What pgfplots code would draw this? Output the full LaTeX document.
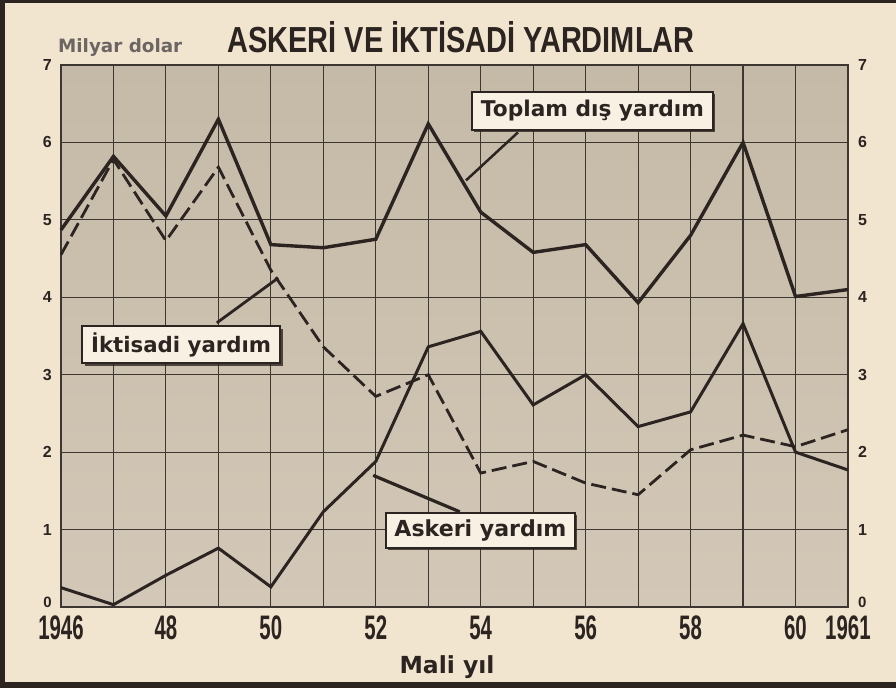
\documentclass[border=0pt]{standalone}
\usepackage{fontspec}
\setmainfont{Liberation Sans}
\newfontfamily\dv{DejaVu Sans}
\usepackage{pgfplots}
\pgfplotsset{compat=1.18}
\usetikzlibrary{shadows}
\definecolor{paper}{HTML}{F2E5D0}
\definecolor{plottop}{HTML}{C5B9A7}
\definecolor{plotbot}{HTML}{D3C8B7}
\definecolor{ink}{HTML}{2B2420}
\definecolor{gridc}{HTML}{3E3731}
\definecolor{boxc}{HTML}{F8F0E3}
\newcommand\xl[1]{\scalebox{0.6}[1]{\fontsize{34}{34}\selectfont\bfseries #1}}
\newcommand\yl[1]{{\fontsize{16}{16}\selectfont\bfseries #1}}
\newcommand\ylz{\raisebox{4pt}[8pt][0pt]{\fontsize{15}{15}\selectfont\bfseries 0}}
\newcommand\lab[2]{\resizebox{#1}{!}{\dv\bfseries #2}}
\pgfplotstableread{
year total econ mil
1946 4.87 4.55 0.25
1947 5.82 5.78 0.03
1948 5.05 4.73 0.41
1949 6.30 5.68 0.76
1950 4.68 4.35 0.26
1951 4.64 3.36 1.23
1952 4.75 2.72 1.88
1953 6.24 3.00 3.36
1954 5.10 1.73 3.56
1955 4.58 1.88 2.61
1956 4.68 1.60 3.00
1957 3.93 1.45 2.33
1958 4.80 2.03 2.52
1959 6.00 2.22 3.66
1960 4.01 2.07 2.00
1961 4.10 2.29 1.77
}\data
\begin{document}
\begin{tikzpicture}[x=1pt,y=1pt]
\fill[paper] (-61,-81) rectangle (835,607);
\path[use as bounding box] (-61,-81) rectangle (835,607);
\begin{axis}[name=ax, at={(0,0)}, anchor=south west, scale only axis,
  width=787pt, height=542pt,
  xmin=1946, xmax=1961, ymin=0, ymax=7,
  xtick={1946,...,1961},
  xticklabels={\xl{1946},,\xl{48},,\xl{50},,\xl{52},,\xl{54},,\xl{56},,\xl{58},,\xl{60},\xl{1961}},
  ytick={0,...,7},
  yticklabels={\ylz,\yl{1},\yl{2},\yl{3},\yl{4},\yl{5},\yl{6},\yl{7}},
  yticklabel pos=left,
  grid=major,
  major grid style={draw=gridc, line width=1.1pt},
  axis line style={draw=gridc, line width=1.1pt},
  major tick length=0pt,
  axis background/.style={top color=plottop, bottom color=plotbot},
  xticklabel style={inner sep=0pt, anchor=north, yshift=-9pt, text=ink},
  yticklabel style={inner sep=0pt, anchor=east, xshift=-9pt, text=ink},
  clip=false,
]
\addplot[ink, line width=3.4pt, line join=miter] table[x=year, y=total] {\data};
\addplot[ink, line width=2.8pt, dash pattern=on 15pt off 6pt] table[x=year, y=econ] {\data};
\addplot[ink, line width=3pt] table[x=year, y=mil] {\data};
% pointers
\draw[ink, line width=2.5pt] (axis cs:1953.72,5.51) -- (axis cs:1954.71,6.13);
\draw[ink, line width=2.8pt] (axis cs:1948.97,3.67) -- (axis cs:1950.14,4.25);
\draw[ink, line width=3.2pt] (axis cs:1951.95,1.70) -- (axis cs:1953.60,1.23);
% label boxes
\node[draw=ink, line width=2pt, fill=boxc, minimum width=241pt, minimum height=38pt, inner sep=0pt, text=ink,
  drop shadow={shadow xshift=2.5pt, shadow yshift=-2.5pt, fill=ink, opacity=0.8}]
  at (axis cs:1956.13,6.41) {\lab{223pt}{Toplam dış yardım}};
\node[draw=ink, line width=2pt, fill=boxc, minimum width=198pt, minimum height=37pt, inner sep=0pt, text=ink,
  drop shadow={shadow xshift=2.5pt, shadow yshift=-2.5pt, fill=ink, opacity=0.8}]
  at (axis cs:1948.29,3.39) {\lab{180pt}{İktisadi yardım}};
\node[draw=ink, line width=2pt, fill=boxc, minimum width=189pt, minimum height=35pt, inner sep=0pt, text=ink,
  drop shadow={shadow xshift=2.5pt, shadow yshift=-2.5pt, fill=ink, opacity=0.8}]
  at (axis cs:1953.995,0.99) {\lab{172pt}{Askeri yardım}};
\end{axis}
\begin{axis}[at={(0,0)}, anchor=south west, scale only axis,
  width=787pt, height=542pt,
  xmin=1946, xmax=1961, ymin=0, ymax=7,
  axis x line=none, axis y line*=right,
  axis line style={draw=none},
  ytick={0,...,7},
  yticklabels={\ylz,\yl{1},\yl{2},\yl{3},\yl{4},\yl{5},\yl{6},\yl{7}},
  major tick length=0pt,
  yticklabel style={inner sep=0pt, anchor=west, xshift=10pt, text=ink},
]
\addplot[draw=none] coordinates {(1946,0)};
\end{axis}
% title and texts
\node[anchor=base, text=ink, inner sep=0pt] at (400,554) {\resizebox{467pt}{31pt}{\bfseries ASKERİ VE İKTİSADİ YARDIMLAR}};
\node[anchor=base west, text=ink!70, inner sep=0pt] at (-3,554) {\resizebox{124pt}{!}{\dv\bfseries Milyar dolar}};
\node[anchor=base, text=ink, inner sep=0pt] at (386,-66) {\resizebox{95pt}{!}{\dv\bfseries Mali yıl}};
% frame
\fill[ink] (-61,-81) rectangle (-56,607);
\fill[ink] (-61,-81) rectangle (835,-75);
\fill[ink] (-61,604) rectangle (835,607);
\end{tikzpicture}
\end{document}
